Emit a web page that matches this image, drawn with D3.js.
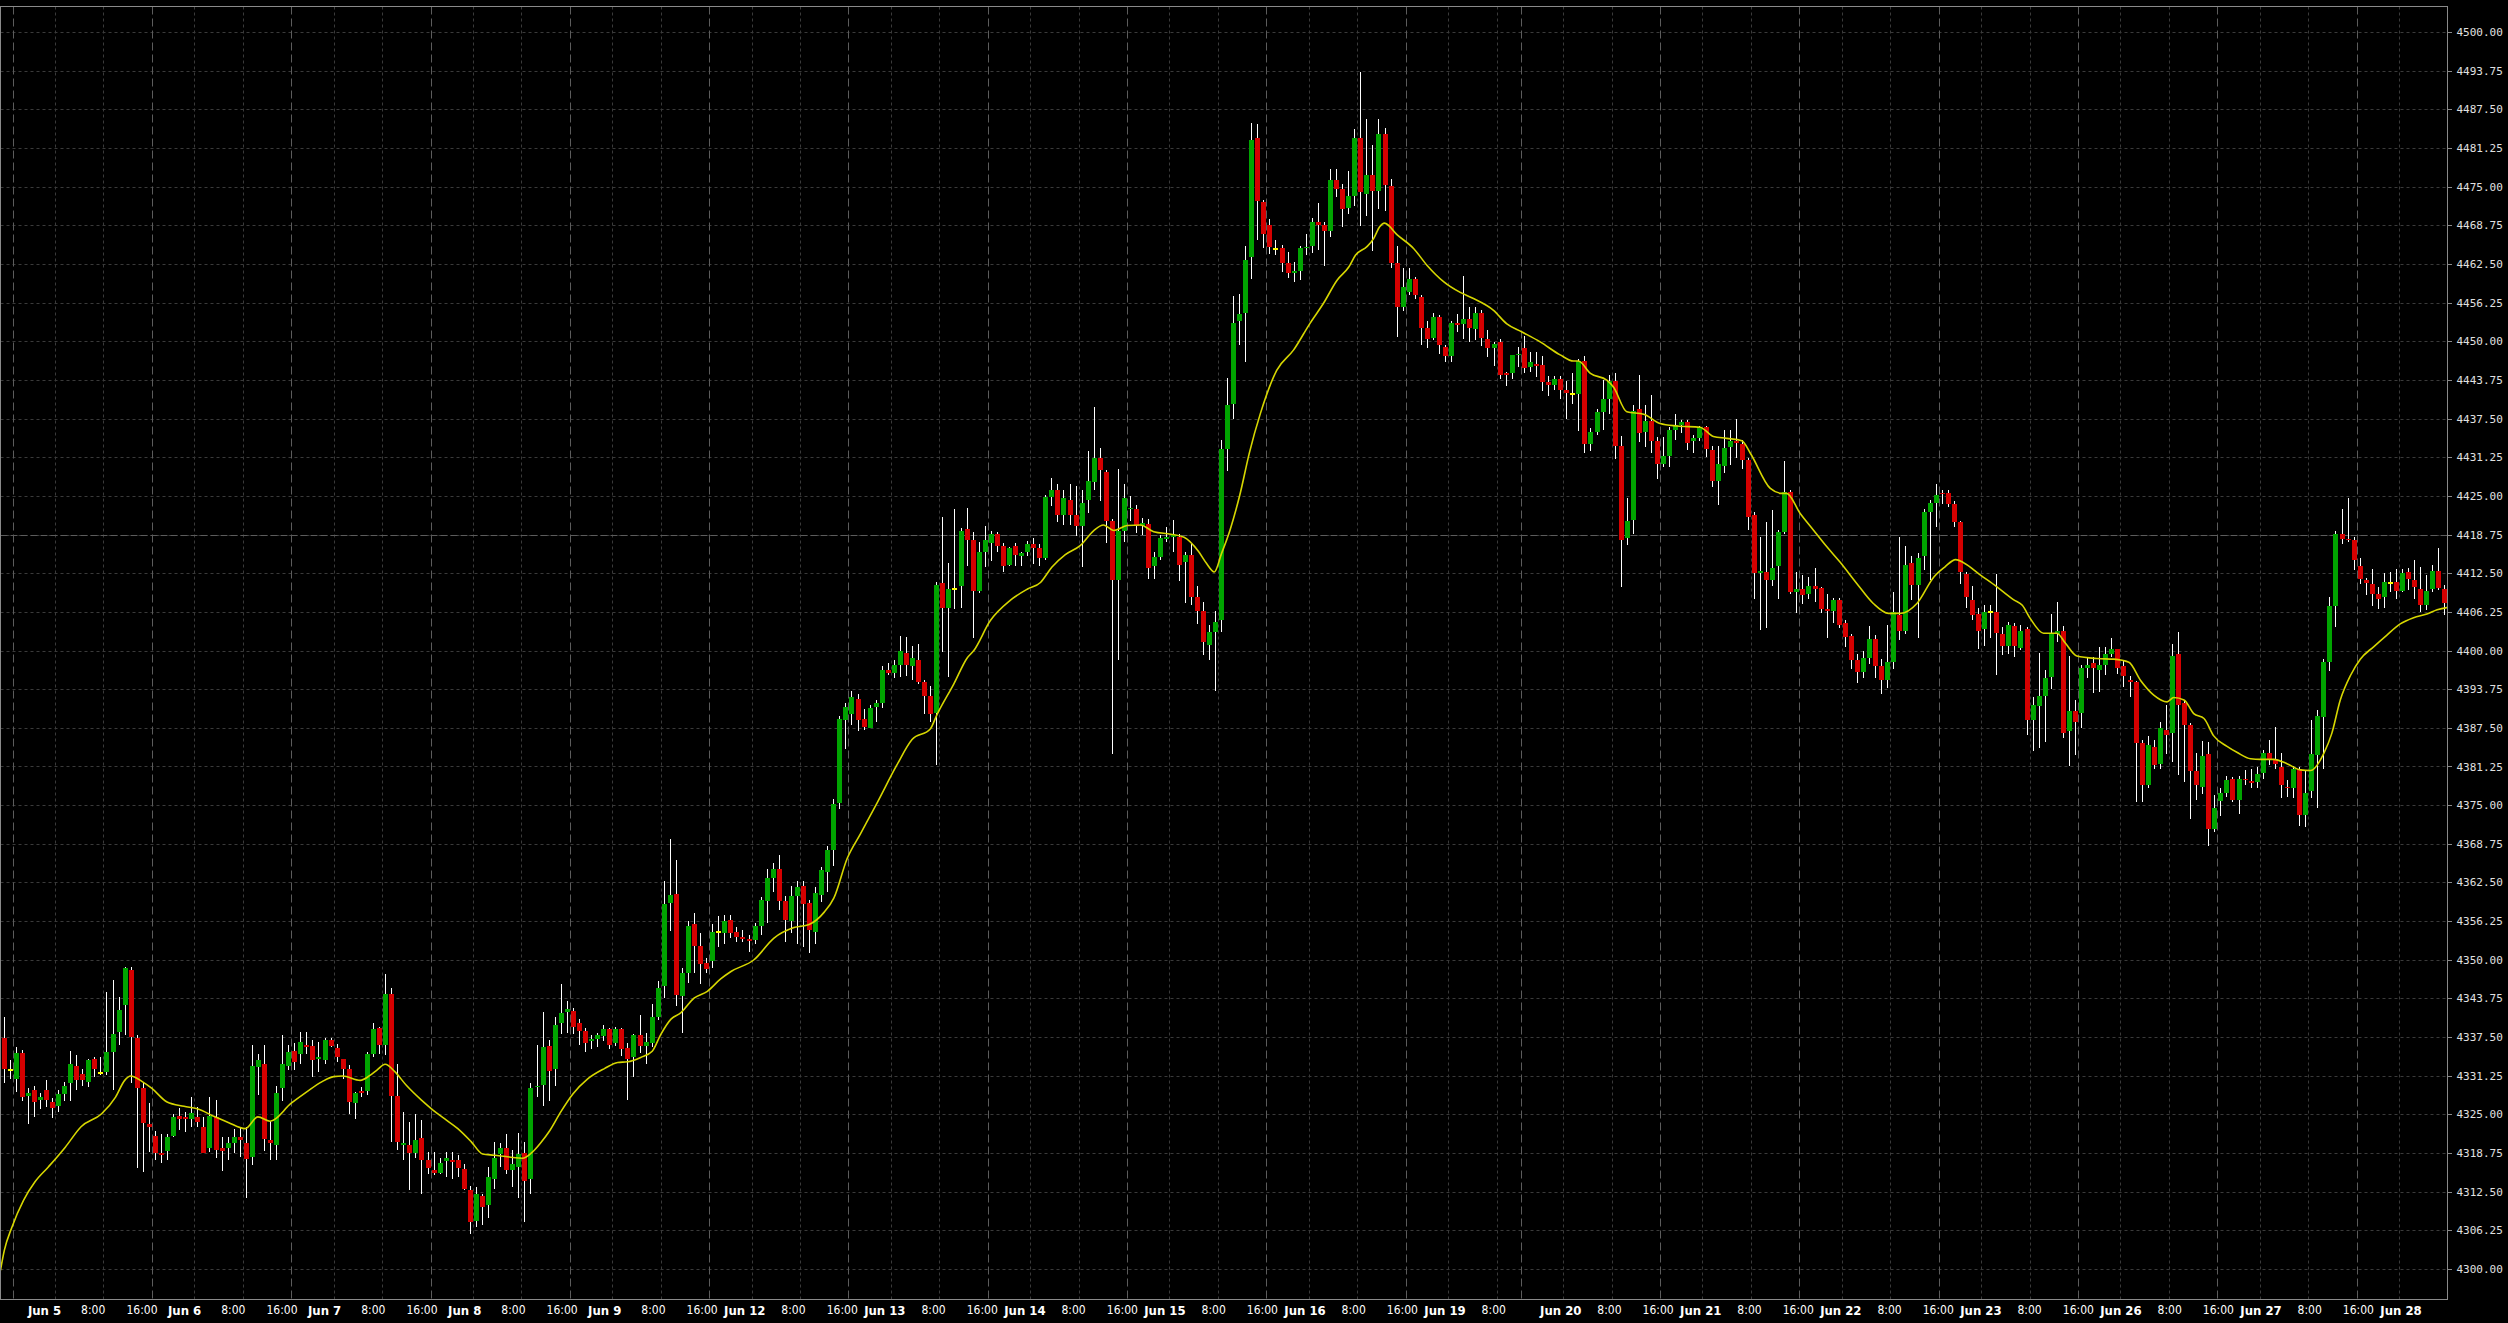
<!DOCTYPE html>
<html><head><meta charset="utf-8">
<script src="https://cdn.jsdelivr.net/npm/d3@7"></script>
<style>html,body{margin:0;padding:0;background:#000;overflow:hidden}</style>
</head><body><svg id="c" width="2508" height="1323"></svg>
<script>
// ---- hourly ES candles, Jun 2 14:00 .. Jun 28 07:00 (CT) ----
const opens = [
4337.4,4332.2,4330.7,4335.0,4328.0,4329.0,4327.4,4329.0,4327.0,4326.4,
4328.3,4330.1,4332.8,4331.5,4330.3,4333.9,4331.7,4331.9,4335.1,4338.3,
4342.7,4348.4,4337.4,4329.2,4323.5,4321.5,4318.8,4319.1,4321.5,4324.8,
4324.6,4324.3,4324.5,4323.0,4319.6,4324.6,4319.6,4319.6,4320.4,4321.3,
4320.3,4318.1,4332.6,4333.2,4320.8,4320.1,4329.3,4332.8,4335.2,4334.7,
4336.2,4336.0,4333.9,4333.8,4337.0,4335.8,4333.9,4332.3,4326.9,4328.8,
4328.8,4334.8,4338.9,4336.2,4344.4,4327.9,4320.0,4320.0,4318.7,4321.2,
4317.6,4316.0,4315.6,4317.4,4317.7,4317.6,4316.2,4312.7,4307.8,4311.8,
4310.3,4314.5,4318.6,4319.6,4316.0,4316.5,4318.7,4314.5,4329.4,4329.7,
4336.0,4332.3,4339.8,4341.6,4341.7,4339.8,4338.4,4336.8,4337.2,4337.6,
4338.8,4336.6,4338.8,4335.7,4334.3,4337.9,4336.1,4336.6,4340.7,4345.7,
4359.1,4360.7,4344.1,4347.8,4355.8,4352.3,4349.5,4349.8,4354.5,4354.3,
4356.4,4354.5,4353.6,4353.3,4353.2,4355.5,4359.5,4363.2,4364.7,4359.5,
4356.2,4360.3,4361.9,4359.1,4354.5,4360.5,4364.2,4367.7,4375.4,4388.8,
4389.7,4392.2,4389.0,4387.4,4390.8,4391.5,4396.8,4396.3,4397.7,4399.6,
4397.5,4398.5,4394.9,4392.7,4389.9,4410.9,4406.9,4410.0,4410.4,4419.6,
4417.9,4409.6,4416.0,4417.4,4418.8,4416.9,4413.9,4416.9,4415.2,4416.0,
4417.2,4416.5,4415.0,4424.8,4426.0,4421.9,4424.3,4421.9,4420.1,4424.3,
4427.2,4431.2,4428.9,4421.0,4411.4,4419.3,4422.8,4422.9,4420.2,4420.5,
4413.7,4415.1,4418.1,4418.3,4418.3,4414.3,4415.5,4408.6,4406.4,4400.9,
4403.0,4404.9,4432.6,4439.9,4453.2,4454.6,4463.7,4482.8,4472.5,4468.8,
4464.9,4465.0,4462.7,4461.1,4461.4,4465.1,4465.4,4469.2,4468.8,4467.9,
4476.1,4474.6,4471.6,4473.5,4482.9,4473.8,4476.9,4474.3,4483.5,4475.1,
4462.7,4455.6,4457.9,4460.1,4457.1,4452.2,4450.5,4453.9,4449.0,4447.6,
4453.0,4452.8,4453.6,4451.9,4454.5,4450.3,4448.9,4449.9,4444.9,4444.9,
4447.8,4448.9,4445.9,4446.3,4446.1,4443.4,4442.9,4443.9,4442.1,4441.5,
4441.4,4446.8,4433.4,4435.3,4438.6,4440.6,4443.6,4433.0,4418.2,4421.1,
4439.0,4435.3,4437.1,4433.9,4430.2,4431.4,4435.6,4436.5,4436.9,4433.9,
4434.3,4436.1,4432.4,4427.4,4429.9,4432.9,4433.9,4433.4,4430.8,4421.9,
4412.5,4412.7,4411.4,4413.6,4419.2,4425.6,4409.5,4409.9,4409.1,4410.4,
4410.1,4406.7,4406.4,4408.1,4404.4,4402.3,4398.5,4396.5,4398.8,4401.8,
4397.5,4395.2,4398.2,4405.8,4403.2,4414.1,4410.6,4415.2,4422.4,4423.8,
4425.5,4425.4,4423.7,4420.7,4412.4,4408.1,4405.9,4403.5,4406.2,4406.3,
4402.7,4400.7,4403.9,4400.4,4403.4,4388.7,4391.0,4392.6,4395.7,4402.6,
4403.1,4387.0,4390.2,4389.9,4397.2,4397.9,4396.9,4397.6,4399.5,4400.2,
4397.5,4395.3,4394.9,4385.0,4378.2,4384.4,4381.6,4387.1,4386.6,4399.4,
4391.5,4387.9,4380.5,4377.9,4383.2,4371.1,4375.7,4377.0,4379.3,4375.9,
4379.3,4378.9,4378.8,4380.2,4383.4,4382.4,4381.2,4377.9,4377.8,4380.9,
4373.4,4377.3,4383.1,4389.3,4398.2,4407.2,4418.8,4418.1,4417.9,4413.7,
4411.4,4410.8,4409.1,4408.6,4410.9,4411.0,4409.7,4412.7,4411.4,4410.0,
4407.3,4410.0,4412.8,4410.0];
const highs = [
4340.8,4333.8,4335.9,4335.4,4329.2,4329.6,4328.4,4330.5,4327.6,4328.9,
4330.3,4335.2,4334.6,4332.4,4334.0,4334.3,4334.2,4344.8,4346.7,4344.0,
4348.9,4348.9,4337.8,4330.0,4326.8,4322.3,4321.9,4321.9,4325.1,4326.1,
4325.4,4327.8,4326.2,4324.6,4327.8,4327.3,4321.4,4321.4,4322.7,4323.0,
4323.0,4336.2,4334.8,4336.2,4324.0,4329.6,4337.8,4336.2,4336.5,4338.3,
4338.3,4337.0,4336.7,4337.4,4337.3,4336.3,4334.0,4333.0,4328.6,4329.4,
4335.1,4339.7,4339.2,4347.7,4345.4,4333.2,4325.4,4323.8,4325.0,4324.1,
4318.9,4318.9,4317.9,4318.9,4318.9,4318.4,4317.0,4313.5,4313.3,4312.2,
4316.5,4320.6,4320.3,4321.9,4319.3,4322.0,4320.6,4330.0,4336.2,4341.6,
4337.0,4340.8,4346.1,4343.4,4342.2,4340.4,4338.9,4337.9,4338.2,4339.4,
4338.9,4339.2,4338.9,4336.6,4338.0,4341.0,4338.2,4342.9,4346.6,4362.7,
4369.5,4366.2,4348.7,4356.3,4357.5,4354.3,4350.3,4355.7,4357.0,4357.2,
4357.2,4355.3,4354.8,4354.0,4356.0,4360.1,4364.7,4365.7,4366.9,4360.3,
4362.0,4362.7,4362.7,4359.7,4361.8,4365.0,4368.4,4376.0,4389.4,4391.5,
4393.5,4393.0,4390.5,4391.2,4392.0,4397.5,4398.0,4398.5,4402.3,4402.2,
4400.7,4401.1,4395.2,4394.2,4411.0,4421.6,4414.2,4422.9,4419.8,4423.1,
4419.2,4417.6,4420.1,4419.3,4419.2,4417.3,4416.8,4417.3,4416.0,4417.7,
4418.2,4417.2,4425.2,4427.9,4426.9,4425.9,4426.9,4426.6,4425.9,4432.2,
4439.4,4432.8,4429.2,4421.3,4429.3,4426.9,4424.9,4423.6,4421.4,4421.3,
4416.0,4418.6,4419.9,4421.1,4418.8,4416.0,4417.2,4410.4,4407.9,4404.1,
4406.4,4434.1,4444.0,4457.3,4457.7,4465.4,4485.3,4485.1,4472.8,4469.7,
4466.4,4465.6,4464.5,4462.8,4465.4,4467.3,4469.9,4472.3,4469.3,4477.9,
4477.9,4475.5,4477.5,4484.3,4493.5,4486.0,4481.7,4486.0,4484.4,4476.2,
4465.4,4461.9,4461.8,4460.4,4457.5,4453.2,4454.5,4454.2,4449.4,4453.3,
4454.4,4460.5,4455.6,4455.6,4455.0,4451.8,4449.9,4450.3,4445.1,4447.8,
4449.1,4450.8,4448.3,4448.3,4447.6,4444.4,4444.4,4444.4,4443.6,4444.9,
4447.2,4447.6,4435.9,4439.0,4443.7,4444.5,4444.8,4434.7,4424.7,4439.7,
4444.5,4439.7,4441.3,4434.5,4434.5,4436.2,4438.3,4437.2,4437.2,4434.8,
4436.3,4436.3,4433.0,4433.0,4435.6,4435.6,4437.4,4434.1,4431.1,4422.4,
4418.4,4420.8,4422.7,4419.5,4430.6,4425.9,4412.7,4412.2,4411.9,4413.3,
4410.3,4409.2,4408.5,4408.5,4405.0,4402.7,4399.5,4400.0,4404.0,4402.5,
4398.6,4404.1,4409.5,4418.4,4416.9,4415.2,4415.7,4422.8,4424.3,4426.9,
4426.0,4425.9,4424.1,4421.0,4412.7,4410.4,4406.8,4407.3,4407.3,4412.4,
4403.8,4404.6,4404.4,4404.1,4403.8,4392.5,4399.6,4396.8,4405.9,4407.8,
4403.9,4399.1,4392.0,4397.6,4398.9,4398.9,4400.6,4400.6,4402.1,4400.3,
4398.5,4395.9,4395.1,4385.5,4386.2,4385.5,4388.4,4391.2,4401.1,4403.0,
4392.0,4388.3,4383.4,4385.4,4385.2,4376.6,4377.7,4379.7,4379.6,4379.7,
4380.7,4380.9,4381.2,4383.9,4385.5,4387.6,4383.5,4379.0,4381.3,4381.2,
4380.7,4388.8,4390.3,4398.7,4408.7,4419.3,4422.8,4424.6,4418.3,4415.0,
4411.7,4413.1,4410.2,4412.6,4412.7,4413.2,4413.2,4413.3,4414.6,4413.5,
4412.2,4413.8,4416.6,4410.6];
const lows = [
4330.0,4330.8,4328.6,4327.2,4323.5,4324.6,4325.8,4326.2,4324.4,4325.4,
4327.2,4327.1,4329.0,4329.6,4329.5,4331.1,4331.3,4331.3,4329.0,4336.2,
4337.8,4330.0,4316.4,4315.7,4318.9,4317.6,4317.1,4317.6,4321.3,4322.5,
4322.2,4323.0,4323.0,4318.7,4318.9,4317.9,4315.9,4317.6,4318.7,4318.1,
4311.4,4316.8,4328.1,4319.0,4317.6,4317.6,4327.2,4332.1,4332.1,4333.2,
4334.8,4331.1,4331.9,4333.2,4335.9,4333.5,4330.8,4325.1,4324.2,4327.8,
4328.1,4334.3,4334.8,4334.6,4320.6,4319.2,4317.6,4312.7,4317.9,4312.2,
4315.4,4315.2,4315.4,4314.9,4314.6,4314.9,4312.7,4305.7,4306.8,4307.1,
4308.2,4313.0,4316.5,4315.4,4313.2,4311.4,4307.6,4312.2,4327.8,4326.3,
4327.2,4329.6,4338.0,4338.2,4338.0,4336.2,4335.1,4335.6,4335.9,4336.9,
4335.6,4336.0,4334.5,4327.3,4331.0,4334.9,4333.2,4335.9,4340.2,4343.8,
4354.7,4342.5,4338.2,4346.3,4347.9,4346.1,4347.9,4348.7,4352.0,4352.6,
4353.5,4352.8,4352.8,4351.3,4352.6,4354.0,4356.0,4361.0,4358.0,4352.8,
4354.3,4352.6,4352.0,4351.1,4352.5,4359.3,4361.0,4365.2,4374.4,4384.0,
4388.0,4387.0,4387.2,4387.4,4388.5,4390.7,4396.1,4395.5,4395.7,4395.9,
4395.2,4394.6,4389.7,4388.4,4381.5,4399.8,4395.7,4406.7,4406.8,4413.7,
4402.1,4409.3,4413.5,4414.5,4416.0,4412.7,4413.7,4413.7,4413.7,4415.3,
4414.0,4413.7,4414.7,4423.3,4420.7,4420.3,4420.3,4418.5,4413.5,4422.3,
4425.9,4424.1,4417.3,4383.3,4398.5,4417.6,4420.9,4419.0,4418.6,4411.6,
4411.5,4414.6,4417.5,4416.0,4411.2,4407.7,4407.4,4404.3,4399.3,4398.4,
4393.5,4403.0,4429.1,4437.5,4449.4,4446.7,4460.0,4466.4,4465.0,4464.1,
4464.0,4461.2,4460.2,4459.5,4459.9,4463.9,4464.2,4464.7,4462.2,4466.9,
4473.4,4468.5,4470.6,4471.8,4468.6,4470.2,4464.6,4471.4,4471.0,4461.9,
4450.7,4454.9,4457.5,4456.8,4449.4,4448.9,4450.2,4447.9,4446.7,4446.7,
4451.5,4450.3,4449.8,4450.2,4449.2,4447.5,4446.0,4443.9,4442.8,4443.9,
4445.9,4444.9,4445.1,4444.3,4442.0,4441.1,4442.1,4440.6,4437.4,4439.8,
4435.5,4431.9,4432.3,4434.8,4435.7,4438.3,4430.9,4410.3,4417.0,4418.8,
4433.7,4432.9,4432.0,4427.7,4429.7,4429.7,4434.0,4435.1,4432.4,4431.9,
4433.8,4431.3,4426.5,4423.6,4428.7,4430.0,4431.1,4429.3,4419.5,4408.4,
4403.3,4403.7,4410.4,4408.3,4418.8,4409.2,4406.0,4407.5,4408.4,4407.9,
4406.1,4402.1,4404.4,4403.7,4400.5,4397.0,4394.8,4395.6,4397.8,4395.5,
4393.0,4394.0,4397.0,4401.7,4402.7,4408.1,4402.1,4413.0,4411.4,4420.0,
4423.7,4423.2,4419.9,4410.8,4406.8,4404.9,4400.2,4400.8,4402.0,4396.0,
4399.3,4399.5,4398.9,4400.1,4386.3,4383.8,4384.2,4385.2,4393.7,4401.3,
4385.9,4381.4,4383.1,4387.4,4395.5,4393.1,4393.3,4396.0,4399.0,4396.2,
4394.1,4392.5,4375.5,4375.5,4377.8,4380.8,4380.9,4383.2,4382.0,4379.9,
4378.8,4372.7,4375.8,4376.8,4368.4,4370.7,4373.2,4376.3,4375.5,4373.5,
4378.2,4377.8,4377.8,4379.3,4381.5,4380.8,4376.1,4376.3,4376.1,4371.6,
4371.4,4376.1,4374.5,4380.9,4396.7,4403.8,4417.2,4417.6,4413.0,4410.7,
4409.0,4407.2,4406.7,4406.8,4409.5,4408.4,4409.4,4409.8,4408.4,4406.3,
4406.5,4409.5,4409.8,4405.8];
const closes = [
4332.3,4332.2,4335.0,4327.8,4328.4,4327.0,4327.8,4327.4,4326.1,4328.3,
4329.6,4333.2,4330.5,4330.6,4333.8,4332.3,4331.7,4335.1,4338.0,4341.9,
4348.7,4337.5,4329.2,4323.6,4322.9,4318.8,4318.4,4321.3,4324.6,4324.3,
4324.3,4325.2,4323.7,4318.8,4324.8,4319.3,4319.1,4320.4,4321.3,4320.8,
4317.8,4332.8,4333.8,4321.0,4320.4,4328.4,4333.2,4335.1,4333.5,4336.7,
4335.9,4333.8,4334.3,4337.0,4336.0,4334.3,4332.3,4327.0,4328.4,4328.4,
4334.7,4338.8,4336.2,4344.5,4328.0,4320.6,4320.4,4318.7,4320.9,4317.7,
4316.4,4315.6,4317.2,4318.0,4317.3,4316.4,4312.9,4307.6,4312.2,4310.0,
4314.8,4318.0,4319.6,4316.0,4317.0,4318.6,4314.3,4329.2,4329.6,4335.9,
4332.0,4339.4,4341.4,4342.0,4339.2,4338.4,4336.6,4337.2,4337.8,4338.8,
4336.2,4338.8,4335.6,4334.0,4337.9,4336.1,4336.7,4340.7,4345.4,4359.0,
4360.5,4344.3,4347.9,4355.4,4352.3,4349.3,4348.5,4354.5,4354.5,4356.3,
4354.3,4353.6,4353.3,4353.0,4355.5,4359.7,4363.2,4364.7,4359.5,4356.4,
4360.3,4361.8,4359.0,4354.8,4360.8,4364.5,4367.7,4375.2,4389.0,4390.9,
4392.5,4388.8,4387.6,4390.7,4391.5,4396.8,4396.4,4397.6,4400.0,4397.7,
4398.8,4394.9,4392.7,4389.8,4410.6,4406.9,4409.9,4410.0,4419.3,4417.9,
4409.6,4416.0,4417.9,4418.9,4416.9,4413.7,4416.5,4415.5,4415.7,4417.2,
4416.5,4415.0,4424.8,4426.0,4421.9,4424.6,4421.9,4420.1,4423.9,4427.4,
4431.2,4429.2,4421.0,4411.4,4419.3,4424.6,4423.1,4420.2,4420.6,4413.4,
4415.1,4418.2,4418.4,4418.6,4413.9,4415.5,4408.7,4406.4,4401.3,4403.0,
4404.6,4432.5,4439.7,4453.0,4454.4,4463.2,4482.5,4472.6,4467.4,4465.2,
4464.9,4462.7,4461.1,4461.3,4465.0,4465.3,4469.2,4468.8,4467.9,4476.1,
4474.6,4471.4,4473.5,4482.9,4474.2,4476.9,4474.3,4483.5,4475.3,4462.7,
4455.6,4458.7,4460.1,4457.4,4452.2,4450.4,4453.9,4449.4,4447.6,4453.0,
4452.6,4453.6,4452.2,4454.5,4450.6,4448.9,4449.5,4444.6,4444.5,4447.7,
4448.0,4445.7,4446.6,4446.0,4443.4,4442.9,4443.9,4442.1,4441.6,4441.5,
4446.8,4433.4,4435.3,4438.6,4440.6,4443.5,4433.0,4417.8,4420.9,4438.8,
4435.2,4437.1,4433.9,4430.2,4431.4,4435.6,4436.5,4436.9,4433.6,4434.4,
4436.1,4432.5,4427.4,4430.1,4432.8,4433.9,4433.5,4430.8,4421.6,4412.5,
4412.8,4411.4,4413.4,4419.2,4425.6,4409.5,4409.9,4408.9,4410.4,4409.9,
4406.7,4406.4,4408.1,4404.1,4402.2,4398.5,4396.5,4398.8,4401.8,4397.5,
4395.2,4398.2,4406.2,4403.1,4413.8,4410.6,4414.9,4422.4,4423.8,4425.1,
4425.3,4423.7,4420.7,4412.7,4408.6,4405.7,4403.2,4406.3,4406.2,4402.8,
4400.7,4404.1,4400.7,4403.1,4388.7,4391.2,4392.6,4395.6,4402.6,4403.1,
4386.7,4390.2,4388.5,4397.1,4397.6,4397.2,4397.6,4399.5,4400.2,4397.2,
4395.9,4394.9,4385.0,4378.2,4384.7,4381.5,4387.4,4386.3,4399.1,4391.2,
4387.9,4380.5,4378.2,4382.9,4371.2,4374.6,4376.9,4379.1,4375.9,4379.2,
4379.0,4378.6,4380.1,4383.4,4382.4,4381.6,4378.3,4377.7,4380.9,4373.4,
4376.9,4383.2,4389.4,4398.1,4407.2,4418.8,4418.0,4417.9,4414.7,4411.5,
4410.9,4409.2,4408.3,4411.0,4410.9,4409.7,4412.6,4411.5,4410.2,4407.3,
4409.6,4412.8,4410.1,4407.7];

// moving average (yellow line) at candle positions
const maIdx = [-0.5,0.13,1.4,3.3,5.2,7.4,10.2,12.8,16.2,18.5,20,21,22.9,24.5,27,29.8,32,34.9,37.1,39.9,42,44,47.5,50,52.6,54.5,56,58.9,60.5,61.7,63,64.6,66.5,69,70.9,72.8,75,77.2,79.1,81,83.5,85.7,87.3,88.6,90.2,92,94,96.4,99.2,101.4,103,105.2,107.1,108.5,110.2,111.8,114,116.2,118.4,120.1,123.9,127.2,130.5,133,135.5,137.1,139.3,141.5,144.3,147.5,150,153,154.1,156.9,159.1,160.2,162.9,166.2,169,171.2,173.1,175.3,177.8,180,181.6,183.3,185.5,187.7,189.9,192.7,194.9,197.3,198.6,199.9,201.1,202.5,204.1,205.7,207.5,210.2,213,215.7,217.9,220.2,222.1,223.2,225.1,226.2,227.2,228,230.1,232.8,235,237.8,240.5,242.5,246,248.2,250.7,253.7,257,259.2,260,262,264.7,265.8,268,270.8,273.5,276.3,280.1,282.3,284.5,287,288.4,291.7,293.6,294.4,296.6,298.8,301,303.2,306,308.7,311.2,313.2,315.9,318.7,320.5,322.3,323.6,326.4,329.1,331.9,333.3,334.6,336.8,339,340.4,342.3,345.6,348.4,350.9,352.8,355,357.2,358.3,360,361.6,363.3,364.9,367.1,368.8,371,372.6,374.8,377,379.2,380.9,383.1,384.4,385.8,387.5,389.1,391.3,393.5,395.7,397.9,400.1,401.8,403.7];
const maVal = [4299.8,4303.0,4306.8,4311.1,4314.1,4316.5,4319.7,4323.0,4325.1,4327.8,4330.5,4331.2,4330.3,4329.2,4327.0,4326.3,4325.9,4324.6,4323.7,4322.7,4324.6,4323.9,4326.8,4328.6,4330.3,4331.1,4331.2,4330.5,4331.3,4332.2,4333.1,4331.9,4329.7,4327.3,4325.7,4324.3,4322.7,4320.6,4318.6,4318.4,4318.1,4317.9,4318.9,4320.3,4322.4,4325.4,4328.3,4330.7,4332.4,4333.4,4333.5,4334.2,4335.2,4337.9,4340.4,4341.4,4343.8,4344.9,4346.9,4348.1,4350.0,4353.5,4355.2,4355.7,4357.7,4360.0,4366.4,4370.4,4375.5,4381.5,4385.6,4387.3,4389.6,4394.6,4398.8,4400.0,4404.8,4408.1,4409.9,4411.0,4413.5,4415.5,4417.0,4419.4,4420.3,4419.4,4420.2,4420.3,4419.2,4418.8,4418.3,4416.0,4414.1,4412.7,4415.7,4419.5,4425.1,4432.0,4438.3,4445.3,4448.6,4452.9,4456.1,4459.9,4462.0,4463.9,4465.3,4466.6,4468.5,4469.1,4467.2,4465.0,4462.3,4459.6,4457.9,4457.0,4455.0,4452.8,4451.5,4449.9,4447.8,4446.8,4446.8,4444.8,4443.7,4442.6,4438.6,4438.2,4436.7,4436.3,4436.1,4434.6,4434.3,4433.9,4431.9,4426.2,4425.4,4425.4,4422.2,4419.5,4416.8,4414.3,4410.8,4407.6,4406.0,4406.0,4407.6,4411.9,4413.5,4414.7,4414.2,4412.2,4410.3,4408.2,4407.3,4405.2,4402.8,4402.8,4401.2,4399.1,4398.7,4398.6,4398.1,4395.2,4392.8,4391.7,4392.4,4392.0,4389.8,4389.0,4386.2,4384.5,4383.5,4382.5,4382.4,4382.4,4381.7,4380.7,4380.6,4383.4,4386.6,4392.0,4396.0,4398.6,4400.6,4402.5,4404.3,4405.3,4405.9,4406.6,4407.0];

// time axis: session boundaries (long dash) and labelled ticks
const sessionStarts = [2,25,48,71,94,117,140,163,186,209,232,251,274,297,320,343,366,389];
const tickIdx  = [9,17,25,32,40,48,55,63,71,78,86,94,101,109,117,124,132,140,147,155,163,170,178,186,193,201,209,216,224,232,239,247,258,266,274,281,289,297,304,312,320,327,335,343,350,358,366,373,381,389,396];
const tickText = ["Jun 5","8:00","16:00","Jun 6","8:00","16:00","Jun 7","8:00","16:00","Jun 8","8:00","16:00","Jun 9","8:00","16:00","Jun 12","8:00","16:00","Jun 13","8:00","16:00","Jun 14","8:00","16:00","Jun 15","8:00","16:00","Jun 16","8:00","16:00","Jun 19","8:00","Jun 20","8:00","16:00","Jun 21","8:00","16:00","Jun 22","8:00","16:00","Jun 23","8:00","16:00","Jun 26","8:00","16:00","Jun 27","8:00","16:00","Jun 28"];
const yTicks = [4300.00,4306.25,4312.50,4318.75,4325.00,4331.25,4337.50,4343.75,4350.00,4356.25,4362.50,4368.75,4375.00,4381.25,4387.50,4393.75,4400.00,4406.25,4412.50,4418.75,4425.00,4431.25,4437.50,4443.75,4450.00,4456.25,4462.50,4468.75,4475.00,4481.25,4487.50,4493.75,4500.00];
const refLevel = [4418.75];

// ---- drawing ----
const W = 2508, H = 1323;
const L = 0.5, T = 6.5, R = 2447.5, B = 1299.5;
const N = opens.length;
const svg = d3.select('#c');
svg.append('rect').attr('width', W).attr('height', H).attr('fill', '#000');

const x = d3.scaleLinear().domain([0, N]).range([0.5, R]);
const y = d3.scaleLinear().domain([4300, 4500]).range([1269, 32]);
const labelX = d3.scaleLinear().domain([9, 396]).range([x(9) - 11, x(396) + 1.5]);

const defs = svg.append('defs');
defs.append('clipPath').attr('id', 'clip').append('rect')
  .attr('x', L).attr('y', T).attr('width', R - L).attr('height', B - T);

const grid = svg.append('g').attr('clip-path', 'url(#clip)');
// horizontal grid
grid.selectAll('line.h').data(yTicks).join('line')
  .attr('x1', L).attr('x2', R)
  .attr('y1', d => Math.round(y(d)) + 0.5).attr('y2', d => Math.round(y(d)) + 0.5)
  .attr('stroke', '#3a3a3a').attr('stroke-dasharray', '3,3');
// vertical minor grid
const minor = tickIdx.filter(i => sessionStarts.indexOf(i) < 0);
grid.selectAll('line.v').data(minor).join('line')
  .attr('x1', d => Math.round(x(d)) + 0.5).attr('x2', d => Math.round(x(d)) + 0.5)
  .attr('y1', T).attr('y2', B)
  .attr('stroke', '#3a3a3a').attr('stroke-dasharray', '3,3');
// session separators
grid.selectAll('line.s').data(sessionStarts).join('line')
  .attr('x1', d => Math.round(x(d)) + 0.5).attr('x2', d => Math.round(x(d)) + 0.5)
  .attr('y1', T).attr('y2', B)
  .attr('stroke', '#5c5c5c').attr('stroke-dasharray', '8,4');
// reference level
grid.selectAll('line.r').data(refLevel).join('line')
  .attr('x1', L).attr('x2', R)
  .attr('y1', d => Math.round(y(d)) + 0.5).attr('y2', d => Math.round(y(d)) + 0.5)
  .attr('stroke', '#5c5c5c').attr('stroke-dasharray', '7,3');

// candles
const idx = d3.range(N);
const cg = svg.append('g').attr('clip-path', 'url(#clip)').attr('shape-rendering', 'crispEdges');
const cx = i => Math.round(x(i + 0.5));
cg.selectAll('line.w').data(idx).join('line')
  .attr('x1', i => cx(i) + 0.5).attr('x2', i => cx(i) + 0.5)
  .attr('y1', i => y(highs[i])).attr('y2', i => y(lows[i]))
  .attr('stroke', '#ffffff').attr('stroke-width', 1);
cg.selectAll('rect.b').data(idx).join('rect')
  .attr('x', i => cx(i) - 2)
  .attr('width', 5)
  .attr('y', i => opens[i] === closes[i] ? y(opens[i]) - 1 : y(Math.max(opens[i], closes[i])))
  .attr('height', i => opens[i] === closes[i] ? 2 : Math.max(1, Math.abs(y(opens[i]) - y(closes[i]))))
  .attr('fill', i => closes[i] > opens[i] ? '#00a400' : (closes[i] < opens[i] ? '#d50000' : '#ffff00'));

// moving average
const ma = d3.range(maIdx.length).map(k => [maIdx[k], maVal[k]]);
svg.append('g').attr('clip-path', 'url(#clip)').append('path')
  .datum(ma)
  .attr('d', d3.line().x(d => x(d[0] + 0.5)).y(d => y(d[1])).curve(d3.curveMonotoneX))
  .attr('fill', 'none').attr('stroke', '#d6d600').attr('stroke-width', 1.6);

// frame
svg.append('rect').attr('x', L).attr('y', T).attr('width', R - L).attr('height', B - T)
  .attr('fill', 'none').attr('stroke', '#8a8a8a').attr('stroke-width', 1).attr('shape-rendering', 'crispEdges');

// price axis
const ya = svg.append('g').attr('transform', `translate(${R},0)`)
  .call(d3.axisRight(y).tickValues(yTicks).tickFormat(d3.format('.2f')).tickSize(4).tickPadding(5));
ya.select('.domain').remove();
ya.selectAll('line').attr('stroke', '#8a8a8a').attr('shape-rendering', 'crispEdges');
ya.selectAll('text').attr('fill', '#e0e0e0')
  .style('font-family', '"DejaVu Sans Mono", monospace').style('font-size', '11px');

// time axis
const xa = svg.append('g').attr('transform', `translate(0,${B})`)
  .call(d3.axisBottom(labelX).tickValues(tickIdx).tickFormat((d, k) => tickText[k]).tickSize(0).tickPadding(6));
xa.select('.domain').remove();
xa.selectAll('text').attr('fill', '#ffffff')
  .style('font-family', '"DejaVu Sans Condensed", "DejaVu Sans", sans-serif')
  .style('font-size', (d, k) => tickText[k].indexOf('Jun') === 0 ? '13px' : '12px')
  .style('font-weight', (d, k) => tickText[k].indexOf('Jun') === 0 ? 'bold' : 'normal');
</script></body></html>
